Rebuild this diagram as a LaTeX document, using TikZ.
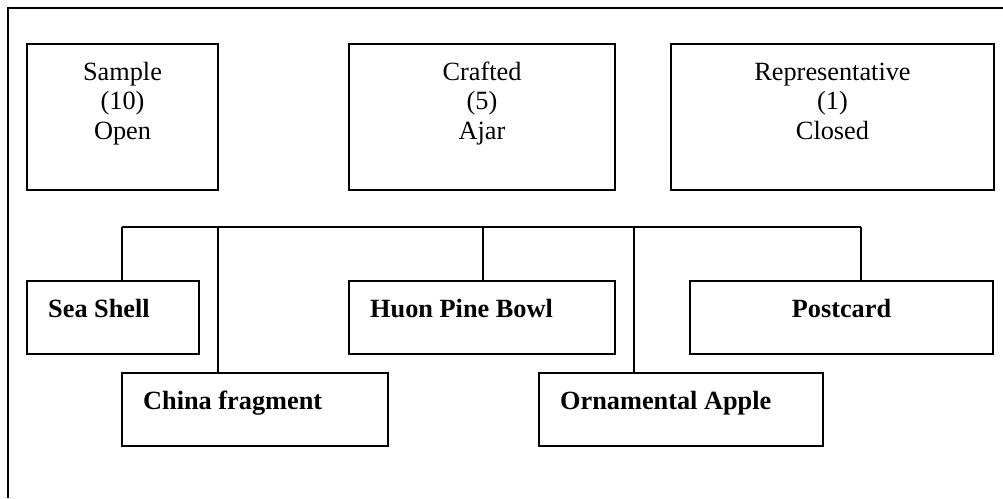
\documentclass[tikz,border=0pt]{standalone}
\usepackage{fontspec}
\setmainfont{Liberation Serif}
\begin{document}
\begin{tikzpicture}[x=1pt,y=-1pt,
  every node/.style={font=\fontsize{26.3pt}{29.5pt}\selectfont},
  box/.style={draw, line width=1.6pt, inner sep=0pt, outer sep=0pt, anchor=north west},
  wire/.style={line width=1.6pt},
  frame/.style={line width=1.8pt},
  lbl/.style={inner sep=0pt, anchor=base west, font=\fontsize{26.3pt}{29.5pt}\selectfont\bfseries},
  ttl/.style={inner sep=0pt, anchor=base}]
\useasboundingbox (0,0) rectangle (1003,498);

% open frame: only the top and left edges are visible
\coordinate (fbl) at (8,498);
\coordinate (ftl) at (8,8);
\coordinate (ftr) at (1003,8);
\draw[frame] (fbl) -- (ftl) -- (ftr);

% top row of categories
\node[box, minimum width=191, minimum height=146] (samp) at (27,44) {};
\node[box, minimum width=266, minimum height=146] (craft) at (349,44) {};
\node[box, minimum width=323, minimum height=146] (repr) at (671,44) {};
\node[ttl] (sampt) at ([shift={(0,36)}]samp.north) {\begin{tabular}[t]{@{}c@{}}Sample\\(10)\\Open\end{tabular}};
\node[ttl] (craftt) at ([shift={(0,36)}]craft.north) {\begin{tabular}[t]{@{}c@{}}Crafted\\(5)\\Ajar\end{tabular}};
\node[ttl] (reprt) at ([shift={(0,36)}]repr.north) {\begin{tabular}[t]{@{}c@{}}Representative\\(1)\\Closed\end{tabular}};

% objects
\node[box, minimum width=172, minimum height=73] (sea) at (27,281) {};
\node[box, minimum width=266, minimum height=73] (huon) at (349,281) {};
\node[box, minimum width=303, minimum height=73] (post) at (690,281) {};
\node[box, minimum width=266, minimum height=73] (china) at (122,373) {};
\node[box, minimum width=284, minimum height=73] (orn) at (539,373) {};

\node[lbl] (seat) at ([shift={(21,36)}]sea.north west) {Sea Shell};
\node[lbl] (huont) at ([shift={(21,36)}]huon.north west) {Huon Pine Bowl};
\node[lbl, anchor=base] (postt) at ([shift={(0,36)}]post.north) {Postcard};
\node[lbl] (chinat) at ([shift={(21,36)}]china.north west) {China fragment};
\node[lbl] (ornt) at ([shift={(21,36)}]orn.north west) {Ornamental Apple};

% bus line and branches
\coordinate (b1) at (122,227);
\coordinate (b2) at (218,227);
\coordinate (b3) at (483,227);
\coordinate (b4) at (634,227);
\coordinate (b5) at (861,227);
\draw[wire] (b1) -- (b5);
\draw[wire] (b1) -- (b1 |- sea.north);
\draw[wire] (b2) -- (b2 |- china.north);
\draw[wire] (b3) -- (b3 |- huon.north);
\draw[wire] (b4) -- (b4 |- orn.north);
\draw[wire] (b5) -- (b5 |- post.north);
\end{tikzpicture}
\end{document}
